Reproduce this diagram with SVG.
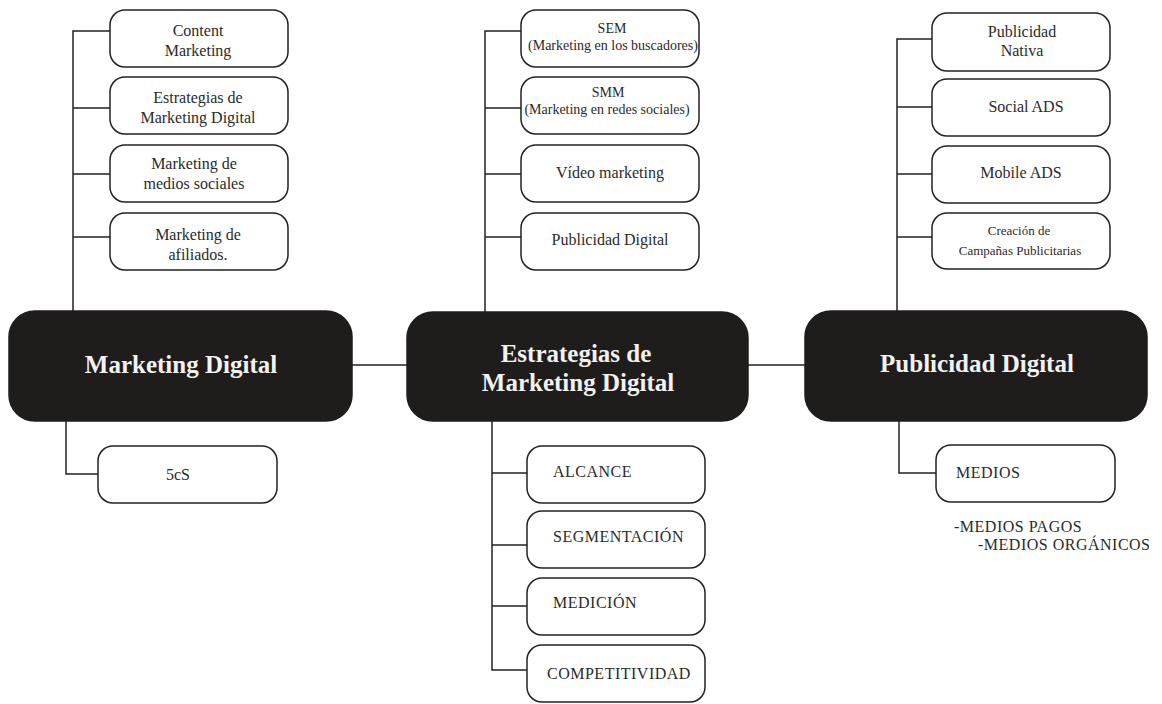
<svg xmlns="http://www.w3.org/2000/svg" width="1162" height="704" viewBox="0 0 1162 704">
<style>
.sb{fill:#fff;stroke:#222;stroke-width:1.5}
.bb{fill:#1f1d1c;stroke:#1f1d1c;stroke-width:1.5}
.t{font-family:"Liberation Serif","Times New Roman",serif;font-size:16px;fill:#2a2a2a;text-anchor:middle}
.s14{font-size:14px}
.s13{font-size:13px}
.l{text-anchor:start}
.ls{letter-spacing:0.5px}
.bt{font-family:"Liberation Serif","Times New Roman",serif;font-size:25px;font-weight:bold;fill:#f2f2f2;text-anchor:middle}
.c{fill:none;stroke:#222;stroke-width:1.5}
</style>
<defs>
<clipPath id="clipR"><rect x="0" y="0" width="1149" height="704"/></clipPath>
</defs>
<rect width="1162" height="704" fill="#fff"/>
<g id="connectors">
<path class="c" d="M73,311 V31 H110 M73,108 H110 M73,174 H110 M73,237 H110"/>
<path class="c" d="M66,421 V474 H98"/>
<path class="c" d="M352,365 H407 M748,365 H805"/>
<path class="c" d="M485,312 V31 H521 M485,108 H521 M485,174 H521 M485,237 H521"/>
<path class="c" d="M492,421 V670 H527 M492,473 H527 M492,545 H527 M492,606 H527"/>
<path class="c" d="M897,311 V39 H932 M897,107 H932 M897,174 H932 M897,237 H932"/>
<path class="c" d="M899,421 V473 H936"/>
</g>
<g id="n-marketing-digital">
<rect class="bb" x="9" y="311" width="343" height="110" rx="26"/>
<text class="bt" x="181" y="373">Marketing Digital</text>
</g>
<g id="n-estrategias">
<rect class="bb" x="407" y="312" width="341" height="109" rx="26"/>
<text class="bt" x="576" y="362">Estrategias de</text>
<text class="bt" x="578" y="391">Marketing Digital</text>
</g>
<g id="n-publicidad-digital">
<rect class="bb" x="805" y="311" width="342" height="110" rx="26"/>
<text class="bt" x="977" y="372">Publicidad Digital</text>
</g>
<g id="n-content">
<rect class="sb" x="110" y="10" width="178" height="57" rx="15"/>
<text class="t" x="198" y="36">Content</text>
<text class="t" x="198" y="56">Marketing</text>
</g>
<g id="n-estrategias-md">
<rect class="sb" x="110" y="77" width="178" height="57" rx="15"/>
<text class="t" x="198" y="103">Estrategias de</text>
<text class="t" x="198" y="123">Marketing Digital</text>
</g>
<g id="n-medios-sociales">
<rect class="sb" x="110" y="145" width="178" height="57" rx="15"/>
<text class="t" x="194" y="169">Marketing de</text>
<text class="t" x="194" y="189">medios sociales</text>
</g>
<g id="n-afiliados">
<rect class="sb" x="110" y="213" width="178" height="57" rx="15"/>
<text class="t" x="198" y="240">Marketing de</text>
<text class="t" x="198" y="260">afiliados.</text>
</g>
<g id="n-5cs">
<rect class="sb" x="98" y="446" width="179" height="57" rx="15"/>
<text class="t" x="178" y="480">5cS</text>
</g>
<g id="n-sem">
<rect class="sb" x="521" y="10" width="178" height="57" rx="15"/>
<text class="t s14" x="612" y="33">SEM</text>
<text class="t s14" x="613" y="50">(Marketing en los buscadores)</text>
</g>
<g id="n-smm">
<rect class="sb" x="521" y="77" width="178" height="57" rx="15"/>
<text class="t s14" x="608" y="97">SMM</text>
<text class="t s14" x="607" y="114">(Marketing en redes sociales)</text>
</g>
<g id="n-video">
<rect class="sb" x="521" y="145" width="178" height="57" rx="15"/>
<text class="t" x="610" y="178">Vídeo marketing</text>
</g>
<g id="n-publicidad-d">
<rect class="sb" x="521" y="213" width="178" height="57" rx="15"/>
<text class="t" x="610" y="245">Publicidad Digital</text>
</g>
<g id="n-alcance">
<rect class="sb" x="527" y="446" width="178" height="57" rx="15"/>
<text class="t l ls" x="553" y="477">ALCANCE</text>
</g>
<g id="n-segmentacion">
<rect class="sb" x="527" y="511" width="178" height="57" rx="15"/>
<text class="t l ls" x="553" y="542">SEGMENTACIÓN</text>
</g>
<g id="n-medicion">
<rect class="sb" x="527" y="578" width="178" height="57" rx="15"/>
<text class="t l ls" x="553" y="608">MEDICIÓN</text>
</g>
<g id="n-competitividad">
<rect class="sb" x="527" y="645" width="178" height="57" rx="15"/>
<text class="t l ls" x="547" y="679">COMPETITIVIDAD</text>
</g>
<g id="n-nativa">
<rect class="sb" x="932" y="13" width="178" height="58" rx="15"/>
<text class="t" x="1022" y="37">Publicidad</text>
<text class="t" x="1022" y="56">Nativa</text>
</g>
<g id="n-social-ads">
<rect class="sb" x="932" y="79" width="178" height="57" rx="15"/>
<text class="t" x="1026" y="112">Social ADS</text>
</g>
<g id="n-mobile-ads">
<rect class="sb" x="932" y="146" width="178" height="57" rx="15"/>
<text class="t" x="1021" y="178">Mobile ADS</text>
</g>
<g id="n-campanas">
<rect class="sb" x="932" y="213" width="178" height="56" rx="15"/>
<text class="t s13" x="1019" y="235">Creación de</text>
<text class="t s13" x="1020" y="255">Campañas Publicitarias</text>
</g>
<g id="n-medios">
<rect class="sb" x="936" y="445" width="179" height="57" rx="15"/>
<text class="t l ls" x="956" y="478">MEDIOS</text>
</g>
<g id="medios-list" clip-path="url(#clipR)">
<text class="t l ls" x="954" y="532">-MEDIOS PAGOS</text>
<text class="t l ls" x="978" y="550">-MEDIOS ORGÁNICOS</text>
</g>
</svg>
